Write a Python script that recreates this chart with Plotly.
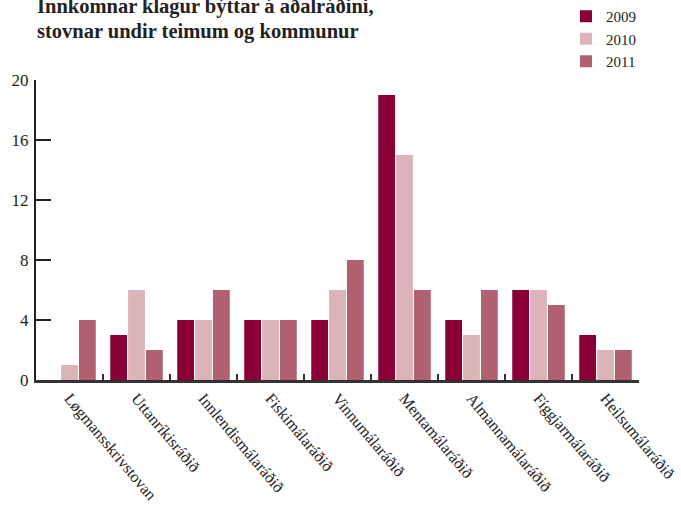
import plotly.graph_objects as go

categories = ["Løgmansskrivstovan", "Uttanríkisráðið", "Innlendismálaráðið", "Fiskimálaráðið",
              "Vinnumálaráðið", "Mentamálaráðið", "Almannamálaráðið", "Fíggjarmálaráðið", "Heilsumálaráðið"]
v2009 = [0, 3, 4, 4, 4, 19, 4, 6, 3]
v2010 = [1, 6, 4, 4, 6, 15, 3, 6, 2]
v2011 = [4, 2, 6, 4, 8, 6, 6, 5, 2]
series_names = ["2009", "2010", "2011"]
colors = ["#8a0036", "#dcb3b8", "#b06070"]
y_ticks = [0, 4, 8, 12, 16, 20]
title_lines = ["Innkomnar klagur býttar á aðalráðini,", "stovnar undir teimum og kommunur"]

FONT = "Liberation Serif"
W, H = 681, 508
ML, MR, MT, MB = 36, 42, 80, 128
PH = H - MT - MB

fig = go.Figure()
for name, vals, col in zip(series_names, [v2009, v2010, v2011], colors):
    fig.add_trace(go.Bar(x=categories, y=vals, name=name, marker=dict(color=col, line=dict(width=0))))

def ypaper(px):
    return (H - MB - px) / PH

for txt, ypx in zip(title_lines, [7, 31]):
    fig.add_annotation(text="<b>%s</b>" % txt, xref="paper", yref="paper", x=(35 - ML) / (W - ML - MR),
                       y=ypaper(ypx), xanchor="left", yanchor="middle", showarrow=False,
                       font=dict(family=FONT, size=20.5, color="#222"))

fig.update_layout(
    width=W, height=H,
    barmode="group", bargap=0.2, bargroupgap=0.06,
    plot_bgcolor="white", paper_bgcolor="white",
    margin=dict(l=ML, r=MR, t=MT, b=MB, autoexpand=False),
    font=dict(family=FONT, size=14, color="#222"),
    legend=dict(x=566 / W, xref="container", y=1 + 6 / H, yref="container", xanchor="left", yanchor="top",
                font=dict(family=FONT, size=15), itemwidth=30, tracegroupgap=0,
                bgcolor="rgba(0,0,0,0)"),
    showlegend=True,
)
fig.update_xaxes(
    type="category", range=[-0.5, 8.5], tickson="boundaries", automargin=False,
    ticks="inside", ticklen=6, tickwidth=2, tickcolor="#333",
    showline=True, linecolor="#333", linewidth=2.5, tickangle=50,
    tickfont=dict(family=FONT, size=16, color="#222"), showgrid=False,
)
fig.update_yaxes(
    range=[0, 20], tickvals=y_ticks, ticks="inside", ticklen=15, tickwidth=2, tickcolor="#222",
    showline=True, linecolor="#222", linewidth=2, showgrid=False, zeroline=False, automargin=False,
    tickfont=dict(family=FONT, size=17, color="#222"), ticklabelstandoff=2,
)
fig.write_html("out.html", config={"displayModeBar": False},
               post_script="document.body.style.margin='0';document.body.style.overflow='hidden';")
